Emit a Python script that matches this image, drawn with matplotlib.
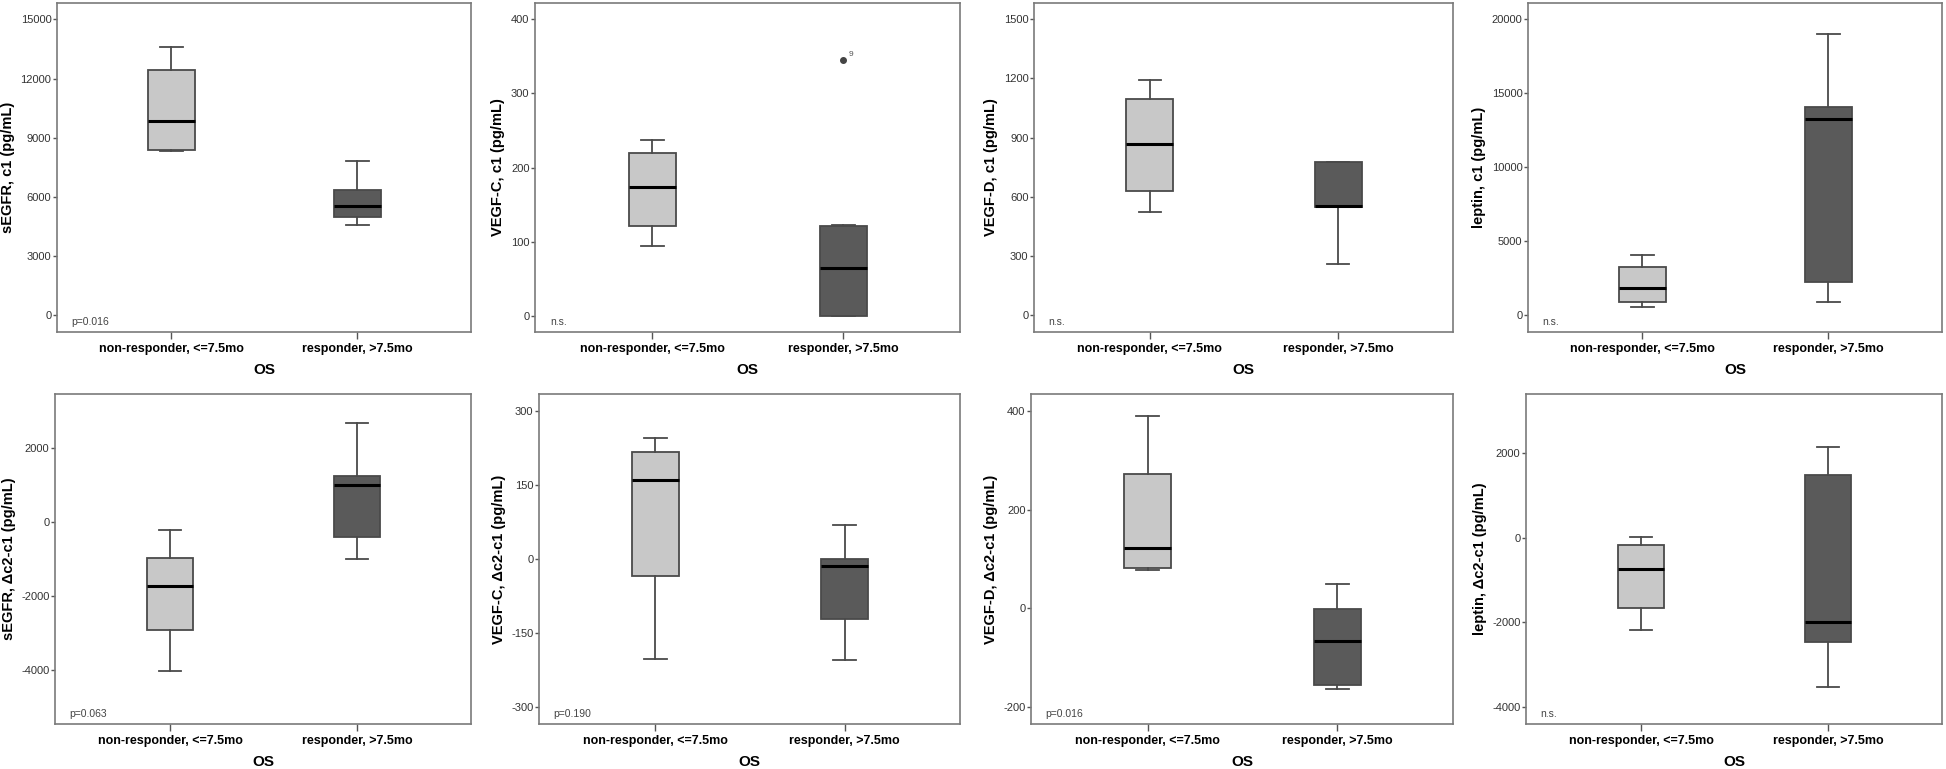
import matplotlib
matplotlib.use("Agg")
import matplotlib.pyplot as plt

plt.rcParams["font.family"] = ["Liberation Sans", "DejaVu Sans"]

groups = ["non-responder, <=7.5mo", "responder, >7.5mo"]
ylabels = ["sEGFR, c1 (pg/mL)", "VEGF-C, c1 (pg/mL)", "VEGF-D, c1 (pg/mL)", "leptin, c1 (pg/mL)",
           "sEGFR, \u0394c2-c1 (pg/mL)", "VEGF-C, \u0394c2-c1 (pg/mL)",
           "VEGF-D, \u0394c2-c1 (pg/mL)", "leptin, \u0394c2-c1 (pg/mL)"]
pvalues = ["p=0.016", "n.s.", "n.s.", "n.s.", "p=0.063", "p=0.190", "p=0.016", "n.s."]

# (whisker low, Q1, median, Q3, whisker high)
nr_stats = [(8310, 8378, 9850, 12415, 13600),
            (94, 121, 174, 219, 237),
            (522, 630, 870, 1096, 1192),
            (562, 900, 1845, 3240, 4072),
            (-4018, -2910, -1730, -964, -216),
            (-202, -35, 160, 217, 245),
            (77, 82, 123, 273, 389),
            (-2173, -1669, -732, -165, 8)]
r_stats = [(4594, 4966, 5523, 6351, 7837),
           (0, 0, 65, 121, 122),
           (260, 549, 552, 775, 779),
           (877, 2227, 13230, 14085, 19010),
           (-991, -405, 991, 1234, 2667),
           (-205, -122, -15, 0, 68),
           (-163, -155, -65, -1, 50),
           (-3528, -2457, -2000, 1488, 2142)]
r_fliers = [[], [345], [], [], [], [], [], []]
flier_ids = [[], ["9"], [], [], [], [], [], []]

yticks = [[0, 3000, 6000, 9000, 12000, 15000],
          [0, 100, 200, 300, 400],
          [0, 300, 600, 900, 1200, 1500],
          [0, 5000, 10000, 15000, 20000],
          [-4000, -2000, 0, 2000],
          [-300, -150, 0, 150, 300],
          [-200, 0, 200, 400],
          [-4000, -2000, 0, 2000]]
ylims = [(-845, 15830), (-22, 422), (-84, 1582), (-1125, 21080),
         (-5459, 3459), (-334, 334), (-234, 434), (-4402, 3394)]

W, H = 1946, 769
fig = plt.figure(figsize=(W / 100, H / 100), dpi=100)

# axes boxes in pixels: left, right, top, bottom
boxes = [(57, 471, 3, 332), (535, 960, 3, 332), (1034, 1453, 3, 332), (1528, 1942, 3, 332),
         (55, 471, 394, 724), (539, 960, 394, 724), (1031, 1453, 394, 724), (1526, 1942, 394, 724)]

edge = "#4a4a4a"
for i in range(8):
    l, r, t, b = boxes[i]
    ax = fig.add_axes([l / W, 1 - b / H, (r - l) / W, (b - t) / H])
    stats = []
    for s, fl in ((nr_stats[i], []), (r_stats[i], r_fliers[i])):
        stats.append(dict(whislo=s[0], q1=s[1], med=s[2], q3=s[3], whishi=s[4], fliers=fl))
    art = ax.bxp(stats, positions=[1, 2], widths=0.25, capwidths=0.12, patch_artist=True,
                 boxprops=dict(edgecolor=edge, linewidth=1.3),
                 whiskerprops=dict(color=edge, linewidth=1.3),
                 capprops=dict(color=edge, linewidth=1.3),
                 medianprops=dict(color="black", linewidth=2.2),
                 flierprops=dict(marker="o", markerfacecolor="#444444", markeredgecolor="#444444",
                                 markersize=4))
    art["boxes"][0].set_facecolor("#c8c8c8")
    art["boxes"][1].set_facecolor("#5a5a5a")
    for y, lab in zip(r_fliers[i], flier_ids[i]):
        ax.annotate(lab, (2, y), xytext=(4, 3), textcoords="offset points",
                    fontsize=6, color="#555555")
    ax.set_xlim(0.385, 2.61)
    ax.set_ylim(*ylims[i])
    ax.set_yticks(yticks[i])
    ax.set_yticklabels([str(v) for v in yticks[i]], fontsize=8, color="#333333")
    ax.set_xticks([1, 2])
    ax.set_xticklabels(groups, fontsize=9, fontweight="bold")
    ax.tick_params(axis="y", length=3, width=1, color="#555555", pad=1)
    ax.tick_params(axis="x", length=5, width=1, color="#555555", pad=3)
    for sp in ax.spines.values():
        sp.set_color("#7a7a7a")
        sp.set_linewidth(1.2)
    ax.set_ylabel(ylabels[i], fontsize=10.5, fontweight="bold", labelpad=4)
    ax.set_xlabel("OS", fontsize=11, fontweight="bold", labelpad=6)
    ax.text(0.035, 0.015, pvalues[i], transform=ax.transAxes, fontsize=7.5,
            color="#444444", ha="left", va="bottom")

fig.savefig("out.png", dpi=100, facecolor="white")
